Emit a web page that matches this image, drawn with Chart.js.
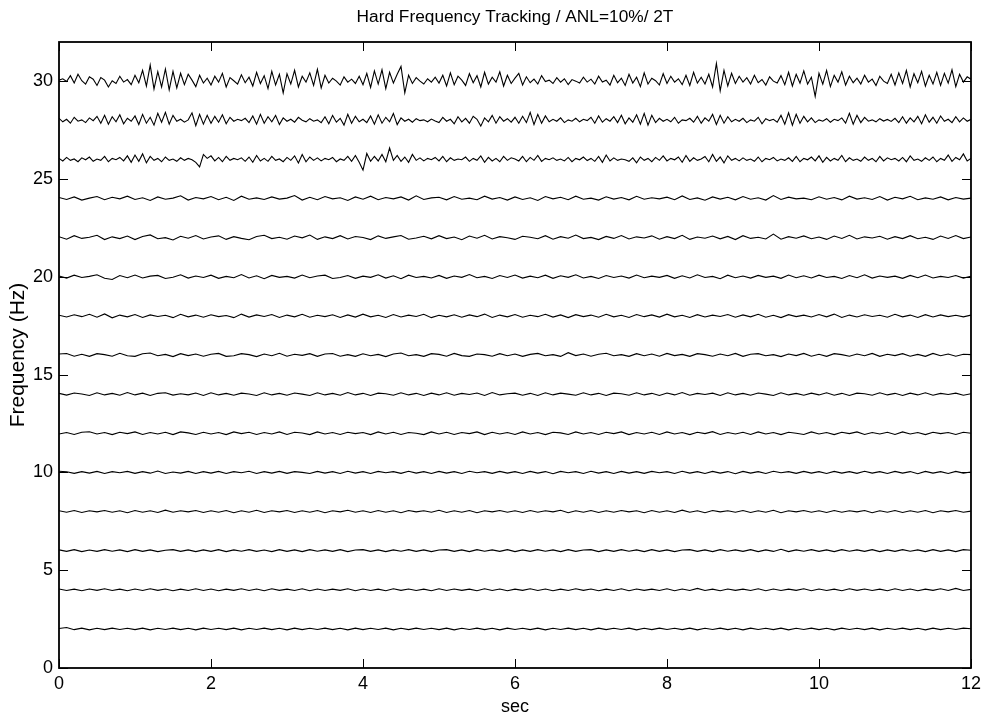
<!DOCTYPE html>
<html>
<head>
<meta charset="utf-8">
<script src="https://cdn.jsdelivr.net/npm/chart.js@4.4.0/dist/chart.umd.min.js"></script>
<style>
html,body{margin:0;padding:0;background:#fff;}
#wrap{width:986px;height:719px;position:relative;}
</style>
</head>
<body>
<div id="wrap"><canvas id="c" width="986" height="719"></canvas></div>
<script>
const chartTitle = 'Hard Frequency Tracking / ANL=10%/ 2T';
const xLabel = 'sec';
const yLabel = 'Frequency (Hz)';
const xTicks = [0, 2, 4, 6, 8, 10, 12];
const yTicks = [0, 5, 10, 15, 20, 25, 30];
const xRange = [0, 12];
const yRange = [0, 32];

const f30 = [
30.05,30.12,29.98,30.28,29.90,30.35,30.02,29.85,30.22,30.10,
29.78,30.18,30.05,29.70,30.02,29.88,30.25,29.95,30.08,29.82,
30.30,29.92,30.55,29.75,30.82,29.60,30.48,29.70,30.62,29.55,
30.50,29.65,30.40,29.82,30.35,30.05,29.72,30.30,29.90,30.15,
29.80,30.25,29.95,30.40,29.70,30.18,30.02,29.85,30.32,29.92,
30.20,29.75,30.45,29.88,30.28,29.62,30.50,29.80,30.35,29.40,
30.38,29.85,30.55,29.70,30.25,29.95,30.42,29.78,30.60,29.65,
30.30,29.90,30.15,30.00,29.80,30.22,29.95,30.10,29.88,30.25,
29.82,30.40,29.68,30.52,29.85,30.58,29.62,30.45,29.90,30.35,
30.75,29.40,30.30,29.88,30.18,30.00,29.85,30.12,29.95,30.20,
29.90,30.30,29.75,30.42,29.82,30.25,30.05,29.78,30.38,29.92,
30.28,29.70,30.45,29.85,30.20,29.95,30.48,29.75,30.30,29.88,
30.15,30.40,29.80,30.22,29.92,30.10,29.85,30.28,29.98,30.05,
29.88,30.18,29.95,30.12,29.82,30.08,30.00,29.90,30.20,29.95,
30.10,29.85,30.25,29.95,30.05,29.80,30.30,29.92,30.15,29.78,
30.35,29.90,30.20,29.72,30.42,29.85,30.15,30.02,29.80,30.38,
29.88,30.25,29.95,30.12,29.82,30.30,29.78,30.45,29.90,30.20,
29.85,30.35,29.70,30.90,29.50,30.55,29.75,30.40,29.88,30.25,
29.95,30.18,29.85,30.30,29.92,30.08,29.80,30.22,30.00,29.90,
30.28,29.82,30.45,29.75,30.35,29.90,30.52,29.85,30.20,29.22,
30.40,29.85,30.55,29.72,30.30,29.95,30.48,29.80,30.25,29.92,
30.15,29.85,30.30,29.95,30.10,29.78,30.25,30.00,29.88,30.35,
29.80,30.42,29.88,30.55,29.70,30.38,29.92,30.50,29.75,30.30,
29.85,30.45,29.78,30.40,29.90,30.58,29.72,30.35,29.95,30.22,
30.10];

const f28 = [
28.10,27.92,28.05,27.85,28.15,27.95,28.02,27.88,28.12,27.98,
28.20,27.85,28.25,27.80,28.18,27.92,28.28,27.82,28.10,27.95,
28.22,27.78,28.30,27.85,28.15,27.75,28.35,27.90,28.40,27.80,
28.25,27.95,28.05,27.90,28.02,28.38,27.72,28.30,27.80,28.25,
27.85,28.20,27.90,28.28,27.82,28.15,27.95,28.05,27.98,28.10,
27.88,28.22,27.80,28.30,27.85,28.18,27.92,28.25,27.78,28.12,
27.95,28.05,27.90,28.15,28.00,27.92,28.08,27.95,28.02,27.88,
28.18,27.82,28.25,27.90,28.10,27.75,28.30,27.85,28.20,27.92,
28.05,27.88,28.22,27.80,28.28,27.85,28.15,27.92,28.35,27.78,
28.12,27.95,28.05,27.90,28.08,27.98,28.02,27.92,28.06,27.96,
27.88,28.15,27.95,28.05,27.82,28.18,27.92,28.10,27.85,28.20,
28.05,27.70,28.12,27.92,28.25,27.85,28.18,27.95,28.08,27.90,
28.15,27.85,28.20,27.88,28.40,27.78,28.30,27.85,28.22,27.92,
28.05,27.95,28.12,27.88,28.02,27.95,28.10,27.92,28.05,27.98,
28.15,27.85,28.22,27.90,28.08,27.95,28.18,27.88,28.25,27.82,
28.12,27.90,28.28,27.80,28.35,27.75,28.25,27.88,28.10,27.95,
28.05,27.92,28.15,27.85,28.02,27.98,28.10,27.90,28.20,27.85,
28.12,27.95,28.30,27.78,28.25,27.85,28.18,27.92,28.05,27.95,
28.10,27.88,28.02,27.95,28.15,27.82,28.08,27.98,28.05,27.90,
28.25,27.80,28.38,27.75,28.30,27.85,28.20,27.92,28.12,27.88,
28.02,27.95,28.08,27.90,28.05,27.98,28.12,27.85,28.35,27.80,
28.25,27.88,28.15,27.95,28.02,27.92,28.08,27.96,28.04,27.94,
28.10,27.88,28.18,27.85,28.12,27.92,28.20,27.82,28.28,27.90,
28.15,27.85,28.22,27.95,28.05,27.88,28.18,27.92,28.12,27.95,
28.05];

const f26 = [
26.05,25.92,26.10,25.95,26.02,25.88,26.08,25.98,26.12,25.90,
26.02,25.95,26.15,25.88,26.05,25.98,26.10,25.92,26.18,25.85,
26.22,25.90,26.28,25.82,26.15,25.95,26.05,25.88,26.12,25.95,
26.02,25.90,26.08,25.95,26.05,25.98,25.85,25.62,26.25,26.05,
26.18,25.92,26.10,25.88,26.15,25.95,26.05,25.98,26.08,25.90,
26.12,25.85,26.20,25.92,26.05,25.90,26.15,25.95,26.02,25.88,
26.10,25.95,26.18,25.82,26.25,25.88,26.12,25.95,26.08,25.92,
26.05,25.98,26.10,25.88,26.02,25.95,26.15,25.90,26.20,25.85,
25.45,26.30,25.90,26.15,25.92,26.25,25.88,26.58,25.95,26.20,
25.90,26.12,25.85,26.25,25.95,26.08,25.92,26.05,25.98,26.10,
25.92,26.15,25.88,26.08,25.95,26.02,25.98,26.12,25.90,26.05,
25.95,26.18,25.85,26.10,25.92,26.05,25.88,26.15,25.95,26.08,
26.02,25.92,26.15,25.88,26.10,25.95,26.20,25.90,26.05,25.98,
26.08,25.95,26.02,25.92,26.10,25.88,26.05,25.98,26.12,25.94,
26.05,25.90,26.15,25.85,26.22,25.92,26.08,25.95,26.02,25.98,
25.90,26.08,25.82,26.12,25.95,26.05,25.88,26.10,25.95,26.18,
25.92,26.05,25.98,26.12,25.85,26.20,25.90,26.08,25.95,26.02,
26.15,25.88,26.25,25.90,26.12,25.82,26.18,25.95,26.05,25.92,
26.08,25.95,26.02,25.90,26.12,25.88,26.05,25.98,26.10,25.92,
26.02,25.95,26.08,25.90,26.15,25.88,26.05,25.98,26.12,25.92,
26.18,25.85,26.10,25.92,26.05,25.95,26.20,25.88,26.08,25.95,
26.02,25.90,26.12,25.95,26.05,25.88,26.15,25.92,26.08,25.98,
26.05,25.92,26.10,25.88,26.18,25.95,26.02,25.90,26.08,25.95,
26.12,25.88,26.05,25.95,26.22,25.90,26.10,25.98,26.28,25.92,
26.05];

const f24 = [
24.05,23.95,24.08,23.92,24.02,24.10,23.94,24.06,23.98,24.12,
23.95,24.04,23.90,24.08,23.96,24.02,24.14,23.92,24.05,23.98,
24.10,23.94,24.06,23.90,24.12,23.96,24.03,23.95,24.08,23.97,
24.02,24.15,23.92,24.06,23.94,24.10,23.98,24.04,23.90,24.08,
23.96,24.12,23.94,24.05,23.98,24.08,23.92,24.14,23.95,24.03,
24.06,23.93,24.10,23.96,24.02,23.94,24.12,23.97,24.05,23.92,
24.08,23.95,24.04,23.90,24.10,23.98,24.06,23.94,24.12,23.96,
24.02,23.92,24.09,23.97,24.05,23.93,24.11,23.96,24.04,23.98,
24.07,23.94,24.13,23.95,24.03,23.91,24.08,23.97,24.06,23.93,
24.10,23.96,24.04,23.92,24.15,23.95,24.07,23.98,24.02,23.94,
24.09,23.96,24.05,23.93,24.12,23.97,24.04,23.95,24.10,23.92,
24.06,23.98,24.11,23.94,24.03,23.96,24.08,23.93,24.05,23.97,
24.02];

const f22 = [
22.05,21.92,22.10,21.96,22.02,22.12,21.90,22.04,21.95,22.08,
21.90,22.06,22.14,21.94,22.00,21.88,22.07,21.97,22.11,21.93,
22.03,22.09,21.91,22.05,21.96,21.89,22.06,22.12,21.95,22.02,
21.92,22.08,21.99,22.13,21.91,22.04,21.95,22.10,21.93,22.06,
22.01,21.90,22.09,21.96,22.04,22.11,21.92,21.98,22.07,21.94,
22.10,21.95,22.03,21.89,22.08,21.97,22.12,21.93,22.05,21.99,
21.91,22.07,22.02,21.94,22.10,21.92,22.05,21.97,22.13,21.95,
22.01,21.90,22.06,21.96,22.11,21.93,22.04,21.98,22.09,21.92,
22.05,21.95,22.12,21.91,22.03,21.97,22.08,21.94,22.06,21.90,
22.10,21.96,22.02,21.93,22.18,21.92,22.05,21.97,22.09,21.94,
22.03,21.91,22.08,21.96,22.12,21.93,22.04,21.98,22.07,21.92,
22.05,21.95,22.10,21.94,22.02,21.91,22.08,21.96,22.11,21.95,
22.03];

const f20 = [
20.04,19.93,20.08,19.96,20.02,20.10,19.92,19.86,20.06,19.95,
20.09,19.94,20.03,20.07,19.91,19.97,20.10,19.93,20.04,19.96,
20.08,19.92,20.02,19.95,20.11,19.94,20.05,19.90,20.07,19.97,
20.02,19.93,20.09,19.95,20.04,20.08,19.91,19.96,20.06,19.92,
20.03,19.97,20.10,19.93,20.05,19.90,20.08,19.96,20.02,19.94,
20.07,19.92,20.04,19.97,20.11,19.95,20.02,19.91,20.06,19.96,
20.09,19.93,20.03,19.95,20.08,19.92,20.05,19.97,20.10,19.94,
20.02,19.91,20.06,19.96,20.04,19.93,20.09,19.95,20.03,19.97,
20.07,19.92,20.05,19.94,20.10,19.96,20.02,19.90,20.08,19.95,
20.04,19.93,20.07,19.97,20.03,19.92,20.09,19.95,20.05,19.94,
20.08,19.96,20.02,19.91,20.06,19.95,20.10,19.93,20.04,19.97,
20.03,19.92,20.07,19.95,20.09,19.94,20.02,19.96,20.06,19.93,
20.03];

const f18 = [
18.03,17.94,18.06,17.96,18.08,17.93,18.10,17.90,18.04,17.95,
18.07,17.92,18.05,17.97,18.03,17.91,18.08,17.95,18.04,17.93,
18.06,17.96,18.02,17.91,18.09,17.94,18.05,17.97,18.07,17.92,
18.04,17.95,18.08,17.93,18.03,17.96,18.06,17.92,18.05,17.94,
18.09,17.95,18.03,17.92,18.07,17.94,18.04,17.97,18.08,17.91,
18.03,17.95,18.06,17.93,18.05,17.96,18.09,17.92,18.04,17.95,
18.07,17.93,18.03,17.96,18.08,17.94,18.05,17.91,18.06,17.96,
18.04,17.93,18.08,17.95,18.03,17.92,18.07,17.96,18.05,17.94,
18.09,17.95,18.03,17.92,18.06,17.94,18.04,17.97,18.07,17.93,
18.05,17.95,18.08,17.93,18.03,17.91,18.06,17.96,18.04,17.94,
18.07,17.95,18.09,17.92,18.04,17.94,18.06,17.97,18.03,17.93,
18.08,17.95,18.04,17.92,18.06,17.94,18.05,17.96,18.03,17.95,
18.04];

const f16 = [
16.05,16.08,15.94,16.04,15.93,16.07,16.02,15.94,16.09,15.96,
15.93,16.06,16.10,15.96,16.03,15.92,16.07,15.97,16.05,15.94,
16.04,16.08,15.93,15.96,16.07,16.02,15.92,16.05,15.96,16.09,
15.94,16.04,15.98,16.07,15.93,16.05,16.08,15.94,16.02,15.93,
16.06,15.96,16.03,15.92,16.05,16.10,15.96,16.02,15.93,16.07,
16.03,15.94,16.08,15.97,15.93,16.05,16.02,15.94,16.07,15.96,
16.05,15.93,16.03,16.08,15.96,16.02,15.93,16.12,15.97,16.05,
15.94,16.04,16.09,15.96,16.02,15.93,16.07,15.96,16.05,15.94,
16.08,15.97,16.03,15.93,16.07,16.02,15.94,16.05,15.96,16.08,
15.93,16.04,16.07,15.96,16.02,15.92,16.05,15.97,16.08,15.94,
16.04,15.93,16.07,16.02,15.94,16.05,15.96,16.08,15.93,16.04,
15.97,16.07,15.94,16.03,15.93,16.08,15.96,16.05,15.94,16.04,
16.02];

const f14 = [
14.04,13.95,14.06,14.01,13.93,14.07,13.96,14.04,13.94,14.08,
13.96,14.05,13.93,14.04,14.07,13.95,14.02,13.96,14.06,13.93,
14.07,13.96,14.04,13.94,14.05,14.01,13.93,14.07,13.96,14.04,
13.94,14.06,14.00,13.93,14.07,13.96,14.04,13.94,14.08,13.96,
14.04,13.93,14.05,14.02,13.94,14.07,13.96,14.04,13.93,14.05,
13.96,14.07,13.94,14.04,13.98,14.06,13.93,14.08,13.96,14.02,
14.05,13.94,14.04,13.93,14.07,13.96,14.05,14.00,13.94,14.07,
13.96,14.04,13.93,14.05,14.02,13.94,14.07,13.96,14.04,13.93,
14.06,13.96,14.08,13.94,14.04,13.98,14.05,13.93,14.07,13.96,
14.04,13.94,14.06,14.00,13.93,14.07,13.96,14.04,13.94,14.05,
13.96,14.07,13.94,14.04,13.93,14.05,14.02,13.94,14.07,13.96,
14.04,13.93,14.05,13.96,14.07,13.94,14.04,13.98,14.05,13.94,
14.02];

const f12 = [
11.96,12.04,11.94,12.05,12.08,11.96,12.04,11.93,12.05,11.98,
12.07,11.94,12.04,11.96,12.05,11.93,12.07,12.02,11.94,12.05,
11.96,12.04,11.93,12.07,11.98,12.05,11.94,12.04,11.96,12.07,
11.94,12.05,12.01,11.93,12.07,11.96,12.04,11.94,12.05,11.98,
12.04,11.93,12.07,11.96,12.05,11.94,12.04,12.00,11.93,12.07,
11.96,12.05,11.94,12.04,11.98,12.07,11.93,12.05,11.96,12.04,
11.94,12.07,11.96,12.04,11.93,12.05,12.02,11.94,12.07,11.96,
12.04,11.94,12.05,11.98,12.07,11.93,12.04,11.96,12.05,11.94,
12.07,11.96,12.04,11.93,12.05,11.98,12.08,11.94,12.04,11.96,
12.05,11.94,12.07,11.96,12.04,11.93,12.05,12.00,11.94,12.07,
11.96,12.04,11.93,12.05,11.98,12.07,11.94,12.04,11.96,12.05,
11.94,12.07,11.96,12.04,11.93,12.05,11.98,12.04,11.94,12.05,
12.00];

const f10 = [
10.06,10.03,9.95,10.04,9.96,10.05,9.94,10.04,9.98,10.05,
9.95,10.04,9.96,10.07,9.94,10.02,9.96,10.05,9.94,10.04,
9.96,10.05,9.94,10.04,9.98,10.06,9.94,10.04,9.96,10.05,
9.95,10.04,10.00,9.94,10.05,9.96,10.04,9.94,10.06,9.96,
10.04,9.94,10.05,9.98,10.04,9.95,10.06,9.96,10.04,9.94,
10.05,9.96,10.04,9.94,10.06,9.98,10.04,9.95,10.05,9.96,
10.04,9.94,10.05,9.96,10.04,9.93,10.05,9.98,10.04,9.94,
10.06,9.96,10.04,9.94,10.05,9.96,10.04,9.95,10.05,9.98,
10.04,9.94,10.06,9.96,10.04,9.94,10.05,9.96,10.04,9.93,
10.05,9.96,10.04,9.94,10.06,9.98,10.04,9.95,10.05,9.96,
10.04,9.94,10.05,9.96,10.04,9.95,10.06,9.96,10.04,9.94,
10.05,9.96,10.04,9.93,10.05,9.96,10.04,9.94,10.05,9.96,
10.02];

const f8 = [
8.04,7.96,8.05,7.95,8.04,7.98,8.05,7.96,8.04,7.94,
8.05,7.96,8.04,7.95,8.07,7.96,8.04,7.98,8.05,7.95,
8.04,7.96,8.05,7.94,8.04,7.96,8.06,7.95,8.04,7.98,
8.05,7.95,8.04,7.96,8.05,7.94,8.04,7.98,8.06,7.96,
8.04,7.95,8.05,7.96,8.04,7.94,8.05,7.98,8.04,7.96,
8.06,7.95,8.04,7.96,8.05,7.94,8.04,7.98,8.05,7.96,
8.04,7.95,8.05,7.96,8.04,7.98,8.06,7.94,8.04,7.96,
8.05,7.95,8.04,7.96,8.05,7.98,8.04,7.94,8.05,7.96,
8.04,7.95,8.07,7.96,8.04,7.94,8.05,7.98,8.04,7.96,
8.05,7.95,8.04,7.96,8.06,7.94,8.04,7.98,8.05,7.96,
8.04,7.95,8.05,7.96,8.04,7.98,8.05,7.94,8.04,7.96,
8.05,7.95,8.04,7.96,8.05,7.94,8.04,7.98,8.05,7.96,
8.02];

const f6 = [
6.04,5.96,6.05,5.95,6.03,5.96,6.05,5.97,6.04,5.95,
6.05,5.96,6.04,5.95,6.02,6.05,5.96,6.04,5.95,6.04,
5.96,6.05,5.95,6.04,5.97,6.05,5.96,6.03,5.95,6.05,
5.96,6.04,5.95,6.05,5.97,6.04,5.96,6.05,5.95,6.03,
6.05,5.96,6.04,5.95,6.04,5.97,6.05,5.96,6.04,5.95,
6.03,6.05,5.96,6.04,5.95,6.05,5.97,6.04,5.96,6.05,
5.95,6.04,5.96,6.05,5.97,6.04,5.95,6.05,5.96,6.03,
6.05,5.95,6.04,5.96,6.05,5.97,6.04,5.95,6.05,5.96,
6.04,5.95,6.03,6.05,5.96,6.04,5.95,6.05,5.97,6.04,
5.96,6.05,5.95,6.04,5.96,6.07,5.95,6.04,5.97,6.05,
5.96,6.04,5.95,6.05,5.97,6.04,5.96,6.05,5.95,6.04,
5.96,6.05,5.97,6.04,5.95,6.05,5.96,6.04,5.95,6.05,
6.02];

const f4 = [
4.04,3.96,4.03,3.95,4.04,3.97,4.05,3.96,4.03,3.95,
4.04,3.96,4.05,3.97,4.04,3.95,4.03,3.96,4.05,3.96,
4.04,3.95,4.03,3.97,4.05,3.96,4.04,3.95,4.05,3.97,
4.03,3.96,4.05,3.95,4.04,3.96,4.03,3.97,4.05,3.95,
4.04,3.96,4.03,3.95,4.05,3.97,4.04,3.96,4.03,3.95,
4.05,3.96,4.04,3.97,4.03,3.95,4.05,3.96,4.04,3.95,
4.03,3.97,4.05,3.96,4.04,3.95,4.03,3.96,4.05,3.97,
4.04,3.95,4.03,3.96,4.05,3.95,4.04,3.97,4.03,3.96,
4.05,3.95,4.04,3.96,4.07,3.96,4.03,3.95,4.04,3.97,
4.03,3.96,4.05,3.95,4.04,3.96,4.03,3.97,4.05,3.95,
4.04,3.96,4.03,3.95,4.05,3.97,4.04,3.96,4.03,3.95,
4.05,3.96,4.04,3.95,4.03,3.97,4.05,3.96,4.07,3.96,
4.02];

const f2 = [
2.02,2.07,1.96,2.04,1.95,2.03,1.96,2.04,1.97,2.03,
1.96,2.04,1.95,2.03,1.97,2.04,1.96,2.03,1.95,2.04,
1.97,2.03,1.96,2.04,1.95,2.03,1.97,2.04,1.96,2.03,
1.95,2.04,1.96,2.03,1.97,2.04,1.96,2.03,1.95,2.04,
1.96,2.03,1.97,2.04,1.95,2.03,1.96,2.04,1.97,2.03,
1.96,2.04,1.95,2.03,1.97,2.04,1.96,2.03,1.95,2.04,
1.97,2.03,1.96,2.04,1.95,2.03,1.97,2.04,1.96,2.03,
1.95,2.04,1.96,2.03,1.97,2.04,1.95,2.03,1.96,2.04,
1.97,2.03,1.96,2.04,1.95,2.03,1.97,2.04,1.96,2.03,
1.95,2.04,1.97,2.03,1.96,2.04,1.95,2.03,1.97,2.04,
1.96,2.03,1.95,2.04,1.97,2.03,1.96,2.04,1.95,2.03,
1.97,2.04,1.96,2.03,1.95,2.04,1.96,2.03,1.97,2.04,
2.01];

const seriesList = [f2, f4, f6, f8, f10, f12, f14, f16, f18, f20, f22, f24, f26, f28, f30];

const mainFamily = '"Liberation Sans", Arial, Helvetica, sans-serif';
const tickSize = 18;
const titleSize = 17.3;
const yTitleSize = 21;

function toPoints(vals) {
  const n = vals.length;
  return vals.map((v, i) => ({ x: xRange[0] + (xRange[1] - xRange[0]) * i / (n - 1), y: v }));
}

const framePlugin = {
  id: 'matlabFrame',
  afterDatasetsDraw(chart) {
    const { ctx, chartArea: a, scales: { x, y } } = chart;
    ctx.save();
    ctx.strokeStyle = '#000';
    ctx.lineWidth = 1;
    ctx.beginPath();
    xTicks.forEach(v => {
      const px = Math.round(x.getPixelForValue(v)) + 0.5;
      ctx.moveTo(px, a.bottom); ctx.lineTo(px, a.bottom - 9);
      ctx.moveTo(px, a.top); ctx.lineTo(px, a.top + 9);
    });
    yTicks.forEach(v => {
      const py = Math.round(y.getPixelForValue(v)) + 0.5;
      ctx.moveTo(a.left, py); ctx.lineTo(a.left + 9, py);
      ctx.moveTo(a.right, py); ctx.lineTo(a.right - 9, py);
    });
    ctx.stroke();
    ctx.lineWidth = 1.8;
    ctx.strokeRect(a.left, a.top, a.right - a.left, a.bottom - a.top);
    ctx.restore();
  }
};

new Chart(document.getElementById('c'), {
  type: 'line',
  data: {
    datasets: seriesList.map(s => ({
      data: toPoints(s),
      borderColor: '#000',
      borderWidth: 1.1,
      pointRadius: 0,
      fill: false,
      tension: 0
    }))
  },
  options: {
    responsive: false,
    animation: false,
    devicePixelRatio: 1,
    layout: { padding: { left: 0, right: 13, top: 0, bottom: 0 } },
    plugins: {
      legend: { display: false },
      tooltip: { enabled: false },
      title: {
        display: true,
        fullSize: false,
        text: chartTitle,
        color: '#000',
        font: { family: mainFamily, size: titleSize, weight: 'normal', lineHeight: 1.2 },
        padding: { top: 7, bottom: 42 - 7 - titleSize * 1.2 }
      }
    },
    scales: {
      x: {
        type: 'linear',
        min: xRange[0],
        max: xRange[1],
        afterBuildTicks: s => { s.ticks = xTicks.map(v => ({ value: v })); },
        afterFit: s => { s.height = 51; },
        grid: { display: false, drawTicks: false },
        border: { display: false },
        ticks: { color: '#000', font: { family: mainFamily, size: tickSize }, padding: 5, maxRotation: 0, autoSkip: false },
        title: { display: true, text: xLabel, color: '#000', font: { family: mainFamily, size: tickSize }, padding: { top: 0, bottom: 1 } }
      },
      y: {
        type: 'linear',
        min: yRange[0],
        max: yRange[1],
        afterBuildTicks: s => { s.ticks = yTicks.map(v => ({ value: v })); },
        afterFit: s => { s.width = 59; },
        grid: { display: false, drawTicks: false },
        border: { display: false },
        ticks: { color: '#000', font: { family: mainFamily, size: tickSize }, padding: 6, autoSkip: false },
        title: { display: true, text: yLabel, color: '#000', font: { family: mainFamily, size: yTitleSize }, padding: { top: 6, bottom: 0 } }
      }
    }
  },
  plugins: [framePlugin]
});
</script>
</body>
</html>
